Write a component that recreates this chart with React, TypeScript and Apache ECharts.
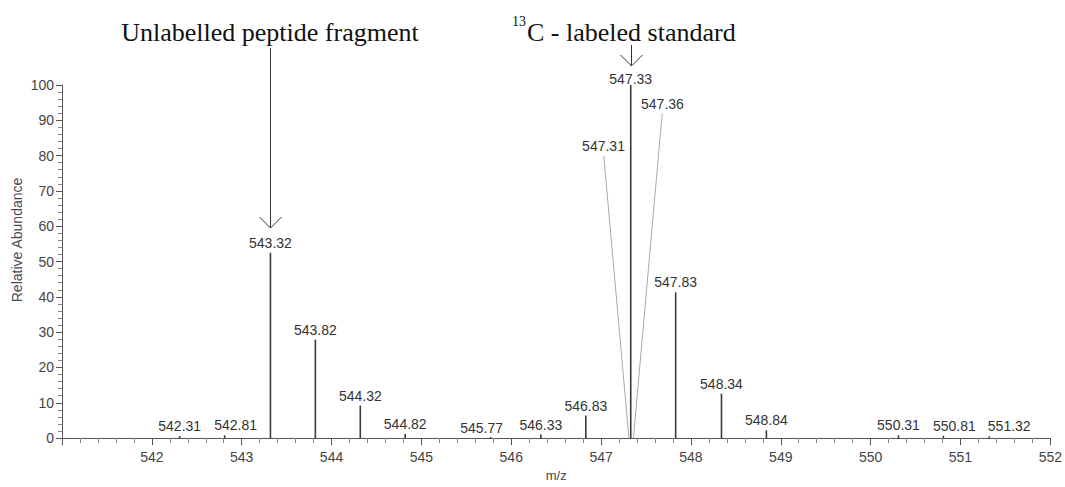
import React, { useEffect, useRef } from "react";
import * as echarts from "echarts";

// ---- data ----
const peakMz = [542.31, 542.81, 543.32, 543.82, 544.32, 544.82, 545.77, 546.33, 546.83, 547.33, 547.83, 548.34, 548.84, 550.31, 550.81, 551.32];
const peakAbundance = [0.6, 0.8, 52.5, 27.9, 9.2, 1.2, 0.3, 1.0, 6.4, 100, 41.3, 12.6, 2.2, 0.8, 0.7, 0.5];
const peakLabels = ["542.31", "542.81", "543.32", "543.82", "544.32", "544.82", "545.77", "546.33", "546.83", "547.33", "547.83", "548.34", "548.84", "550.31", "550.81", "551.32"];

// shoulder peaks labelled with leader lines
const shoulderMz = [547.31, 547.36];
const shoulderLabels = ["547.31", "547.36"];

// axis ticks
const xMin = 541;
const xMax = 552;
const yMin = 0;
const yMax = 100;

// annotation texts
const leftAnnotation = "Unlabelled peptide fragment";
const leftAnnotationMz = 543.32;
const rightAnnotationSup = "13";
const rightAnnotation = "C - labeled standard";
const rightAnnotationMz = 547.33;
const yAxisTitle = "Relative Abundance";
const xAxisTitle = "m/z";

// ---- layout (styling only) ----
const labelShift: number[][] = [[0, 0], [11, 0], [0, 0], [0, 0], [0, 0], [0, 0], [-9, 1], [0, 0], [0, 0], [0, 4], [0, 0], [0, 0], [0, 0], [0, 0], [11, 0], [20, 0]];
const shoulderLeaderEnd = [[547.03, 79.9], [547.68, 91.9]];

const SANS = '"Liberation Sans", Arial, sans-serif';
const SERIF = '"Liberation Serif", "Times New Roman", serif';

export default function App() {
  const ref = useRef<HTMLDivElement>(null);

  useEffect(() => {
    if (!ref.current) return;
    const chart = echarts.init(ref.current, undefined, { renderer: "svg" });

    const barData = peakMz.map((mz, i) => ({
      value: [mz, peakAbundance[i]],
      label: {
        show: true,
        position: "top",
        distance: 3,
        offset: labelShift[i],
        formatter: peakLabels[i],
      },
    }));

    const leaderLines = shoulderMz.map((mz, i) => [
      { coord: [mz, 0] },
      {
        coord: shoulderLeaderEnd[i],
        label: { show: true, position: "end", formatter: shoulderLabels[i], distance: 3, color: "#333", fontSize: 14, fontFamily: SANS },
      },
    ]);

    chart.setOption({
      animation: false,
      backgroundColor: "#ffffff",
      grid: { left: 62, right: 13, top: 85, bottom: 44 },
      xAxis: {
        type: "value",
        min: xMin,
        max: xMax,
        interval: 1,
        name: xAxisTitle,
        nameLocation: "middle",
        nameGap: 24,
        nameTextStyle: { color: "#444", fontSize: 13, fontFamily: SANS },
        axisLine: { show: true, onZero: false, lineStyle: { color: "#555", width: 1 } },
        axisTick: { show: true, length: 7, lineStyle: { color: "#555" } },
        minorTick: { show: true, splitNumber: 5, length: 5, lineStyle: { color: "#888" } },
        axisLabel: {
          formatter: (v: number) => (v === xMin ? "" : String(v)),
          margin: 12,
          fontSize: 14,
          color: "#444",
          fontFamily: SANS,
        },
        splitLine: { show: false },
      },
      yAxis: {
        type: "value",
        min: yMin,
        max: yMax,
        interval: 10,
        axisLine: { show: true, lineStyle: { color: "#555", width: 1 } },
        axisTick: { show: true, length: 6, lineStyle: { color: "#555" } },
        minorTick: { show: true, splitNumber: 5, length: 4, lineStyle: { color: "#888" } },
        axisLabel: { margin: 8, fontSize: 14, color: "#444", fontFamily: SANS },
        splitLine: { show: false },
      },
      series: [
        {
          type: "bar",
          data: barData,
          barWidth: 1.6,
          itemStyle: { color: "#3a3a3a" },
          label: { color: "#333", fontSize: 14, fontFamily: SANS },
          markLine: {
            silent: true,
            symbol: ["none", "none"],
            lineStyle: { color: "#aaa", width: 1, type: "solid" },
            data: leaderLines,
          },
        },
      ],
    });

    const p1 = chart.convertToPixel({ gridIndex: 0 }, [leftAnnotationMz, 0]) as number[];
    const p2 = chart.convertToPixel({ gridIndex: 0 }, [rightAnnotationMz, 0]) as number[];
    const lx = Math.round(p1[0]) + 0.5;
    const rx = Math.round(p2[0]) + 0.5;

    chart.setOption({
      graphic: [
        {
          type: "text",
          style: { text: leftAnnotation, x: 270, y: 32, font: `26px ${SERIF}`, fill: "#111", textAlign: "center", textVerticalAlign: "middle" },
        },
        {
          type: "text",
          style: { text: rightAnnotationSup, x: 512, y: 21, font: `14px ${SERIF}`, fill: "#111", textAlign: "left", textVerticalAlign: "middle" },
        },
        {
          type: "text",
          style: { text: rightAnnotation, x: 527, y: 32, font: `26px ${SERIF}`, fill: "#111", textAlign: "left", textVerticalAlign: "middle" },
        },
        { type: "line", shape: { x1: lx, y1: 48, x2: lx, y2: 228 }, style: { stroke: "#333", lineWidth: 1 } },
        { type: "polyline", shape: { points: [[lx - 11, 217], [lx, 228], [lx + 11, 217]] }, style: { stroke: "#333", lineWidth: 1, fill: "none" } },
        { type: "line", shape: { x1: rx, y1: 45, x2: rx, y2: 66 }, style: { stroke: "#333", lineWidth: 1 } },
        { type: "polyline", shape: { points: [[rx - 11, 55], [rx, 66], [rx + 11, 55]] }, style: { stroke: "#333", lineWidth: 1, fill: "none" } },
        {
          type: "text",
          x: 17,
          y: 240,
          rotation: Math.PI / 2,
          style: { text: yAxisTitle, x: 0, y: 0, font: `14px ${SANS}`, fill: "#4a4a55", textAlign: "center", textVerticalAlign: "middle" },
        },
      ],
    });

    return () => chart.dispose();
  }, []);

  return <div ref={ref} style={{ width: 1065, height: 487, position: "absolute", left: 0, top: 0 }} />;
}
